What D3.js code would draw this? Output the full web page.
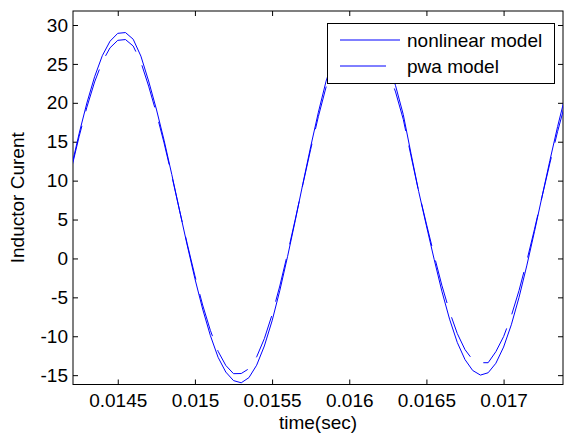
<!DOCTYPE html>
<html>
<head>
<meta charset="utf-8">
<script src="https://cdn.jsdelivr.net/npm/d3@7"></script>
<style>
  body { margin: 0; background: #fff; }
  svg { display: block; font-family: "Liberation Sans", Arial, sans-serif; }
</style>
</head>
<body>
<svg class="svg-content" width="564" height="435"></svg>
<script>
const timeValues = [
  0.01420, 0.01425, 0.01430, 0.01435, 0.01440, 0.01445, 0.01450, 0.01455, 0.01460, 0.01465,
  0.01470, 0.01475, 0.01480, 0.01485, 0.01490, 0.01495, 0.01500, 0.01505, 0.01510, 0.01515,
  0.01520, 0.01525, 0.01530, 0.01535, 0.01540, 0.01545, 0.01550, 0.01555, 0.01560, 0.01565,
  0.01570, 0.01575, 0.01580, 0.01585, 0.01590, 0.01595, 0.01600, 0.01605, 0.01610, 0.01615,
  0.01620, 0.01625, 0.01630, 0.01635, 0.01640, 0.01645, 0.01650, 0.01655, 0.01660, 0.01665,
  0.01670, 0.01675, 0.01680, 0.01685, 0.01690, 0.01695, 0.01700, 0.01705, 0.01710, 0.01715,
  0.01720, 0.01725, 0.01730, 0.01735, 0.01740
];

const nonlinearValues = [
  11.76, 16.08, 19.98, 23.35, 26.06, 27.92, 28.93, 29.03, 28.17, 26.0,
  22.8, 19.2, 15.2, 10.8, 6.2, 1.7, -2.6, -6.5, -9.9, -12.7,
  -14.6, -15.7, -15.98, -15.32, -13.72, -11.25, -8.02, -4.13, 0.22, 4.87,
  9.65, 14.35, 18.79, 22.79, 25.8, 28.0, 29.3, 29.9, 29.8, 29.0,
  27.4, 25.2, 22.2, 18.49, 13.5, 8.6, 4.2, -0.1, -4.2, -7.8,
  -10.8, -13.0, -14.4, -14.99, -14.69, -13.47, -11.39, -8.53, -5.01, -0.96,
  3.44, 8.02, 12.58, 16.95, 20.92
];

const pwaValues = [
  11.55, 15.70, 19.44, 22.68, 25.28, 27.07, 28.03, 28.13, 27.30, 25.22,
  22.15, 18.69, 14.85, 10.63, 6.21, 1.89, -2.23, -5.98, -9.24, -11.93,
  -13.75, -14.81, -14.79, -14.17, -12.65, -10.30, -7.23, -3.54, 0.60, 5.01,
  9.56, 14.02, 18.24, 22.04, 25.0, 27.0, 28.3, 28.9, 28.7, 27.9,
  26.4, 24.2, 21.4, 17.88, 13.19, 8.58, 4.44, 0.40, -3.45, -6.84,
  -9.65, -11.72, -13.04, -13.4, -13.4, -11.98, -10.05, -7.39, -4.12, -0.35,
  3.74, 8.00, 12.24, 16.31, 20.0
];

const xTicks = [0.0145, 0.015, 0.0155, 0.016, 0.0165, 0.017];
const yTicks = [-15, -10, -5, 0, 5, 10, 15, 20, 25, 30];
const seriesNames = ["nonlinear model", "pwa model"];

let plotLeft = 73, plotTop = 11, plotRight = 563, plotBottom = 384.5;
let fontSize = 19;

let x = d3.scaleLinear().domain([0.01421, 0.017385]).range([plotLeft, plotRight]);
let y = d3.scaleLinear().domain([-16.2, 31.8]).range([plotBottom, plotTop]);

let svg = d3.select(".svg-content");

svg.append("defs")
   .append("clipPath")
   .attr("id", "plot-clip")
   .append("rect")
   .attr("x", plotLeft)
   .attr("y", plotTop)
   .attr("width", plotRight - plotLeft)
   .attr("height", plotBottom - plotTop);

// axes: ticks point inward on all four sides, like a matlab box
// plain String() so negatives keep the ascii hyphen
let plainFormat = d => String(d);

svg.append("g")
   .attr("transform", "translate(0," + plotBottom + ")")
   .call(d3.axisBottom(x).tickValues(xTicks).tickSizeInner(-5).tickSizeOuter(0).tickPadding(9).tickFormat(plainFormat))
   .call(g => g.selectAll("text").attr("font-size", fontSize).attr("fill", "#000"));

svg.append("g")
   .attr("transform", "translate(0," + plotTop + ")")
   .call(d3.axisTop(x).tickValues(xTicks).tickSizeInner(-5).tickSizeOuter(0).tickFormat(""));

svg.append("g")
   .attr("transform", "translate(" + plotLeft + ",0)")
   .call(d3.axisLeft(y).tickValues(yTicks).tickSizeInner(-5).tickSizeOuter(0).tickPadding(5).tickFormat(plainFormat))
   .call(g => g.selectAll("text").attr("font-size", fontSize).attr("fill", "#000"));

svg.append("g")
   .attr("transform", "translate(" + plotRight + ",0)")
   .call(d3.axisRight(y).tickValues(yTicks).tickSizeInner(-5).tickSizeOuter(0).tickFormat(""));

svg.selectAll("g").attr("font-family", null);
svg.selectAll(".domain").remove();
svg.selectAll(".tick line").attr("stroke", "#000");

svg.append("rect")
   .attr("x", plotLeft)
   .attr("y", plotTop)
   .attr("width", plotRight - plotLeft)
   .attr("height", plotBottom - plotTop)
   .attr("fill", "none")
   .attr("stroke", "#000")
   .attr("stroke-width", 1);

let line = d3.line()
             .x(d => x(d[0]))
             .y(d => y(d[1]));

let plot = svg.append("g").attr("clip-path", "url(#plot-clip)");

plot.append("path")
    .datum(timeValues.map((t, i) => [t, nonlinearValues[i]]))
    .attr("d", line)
    .attr("fill", "none")
    .attr("stroke", "#0000ff")
    .attr("stroke-width", 1);

plot.append("path")
    .datum(timeValues.map((t, i) => [t, pwaValues[i]]))
    .attr("d", line)
    .attr("fill", "none")
    .attr("stroke", "#0000ff")
    .attr("stroke-width", 1)
    .attr("stroke-dasharray", "44,15");

// axis titles
svg.append("text")
   .attr("x", (plotLeft + plotRight) / 2)
   .attr("y", 429)
   .attr("text-anchor", "middle")
   .attr("font-size", fontSize)
   .text("time(sec)");

svg.append("text")
   .attr("transform", "translate(24," + (plotTop + plotBottom) / 2 + ") rotate(-90)")
   .attr("text-anchor", "middle")
   .attr("font-size", fontSize)
   .text("Inductor Curent");

// legend
let legend = svg.append("g");

legend.append("rect")
      .attr("x", 327.5)
      .attr("y", 23.5)
      .attr("width", 227)
      .attr("height", 60)
      .attr("fill", "#fff")
      .attr("stroke", "#000")
      .attr("stroke-width", 1);

let legendRows = legend.selectAll(".legend-row")
                       .data(seriesNames)
                       .enter()
                       .append("g")
                       .attr("class", "legend-row")
                       .attr("transform", (d, i) => "translate(0," + (40 + i * 26) + ")");

legendRows.append("line")
          .attr("x1", 340)
          .attr("x2", 400)
          .attr("y1", 0)
          .attr("y2", 0)
          .attr("stroke", "#0000ff")
          .attr("stroke-width", 1)
          .attr("stroke-dasharray", (d, i) => i === 1 ? "46,15" : null);

legendRows.append("text")
          .attr("x", 407)
          .attr("y", 7)
          .attr("font-size", fontSize)
          .text(d => d);
</script>
</body>
</html>
